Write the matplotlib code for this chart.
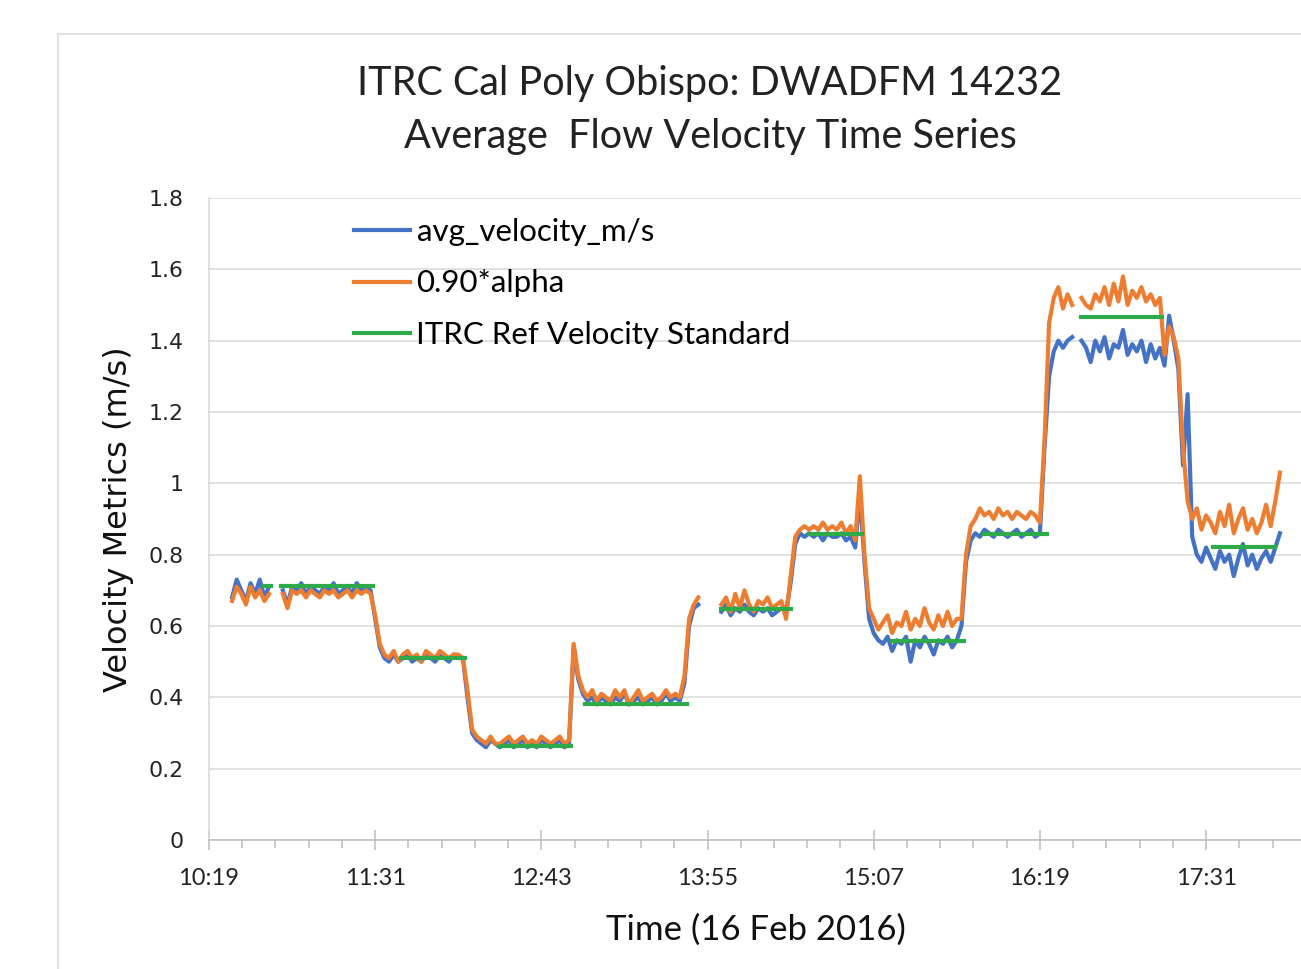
import numpy as np
import matplotlib.pyplot as plt
from matplotlib.patches import Rectangle
from matplotlib.ticker import MultipleLocator

plt.rcParams['font.family'] = ['Lato', 'DejaVu Sans']

# samples every 2 min, minutes after 10:19
sample_start = 10
sample_step = 2

avg_velocity = [
    0.68, 0.73, 0.70, 0.67, 0.72, 0.69, 0.73, 0.68, 0.71,
    None, None,
    0.70, 0.66, 0.71, 0.70, 0.72, 0.69, 0.71, 0.70, 0.69, 0.71, 0.70, 0.72, 0.69, 0.70, 0.71, 0.69, 0.72, 0.70, 0.71, 0.70,
    0.62, 0.54, 0.51, 0.50, 0.52, 0.50, 0.51, 0.52, 0.50, 0.51, 0.50, 0.52, 0.51, 0.50, 0.52, 0.51, 0.50, 0.52, 0.51, 0.51,
    0.40, 0.30, 0.28, 0.27, 0.26, 0.28, 0.27, 0.26, 0.27, 0.28, 0.26, 0.27, 0.28, 0.26, 0.27, 0.26, 0.28, 0.27, 0.26, 0.27, 0.28, 0.26, 0.27,
    0.54, 0.45, 0.41, 0.39, 0.40, 0.38, 0.40, 0.39, 0.38, 0.40, 0.39, 0.41, 0.38, 0.39, 0.40, 0.38, 0.39, 0.40, 0.38, 0.39, 0.41, 0.39, 0.40, 0.39, 0.44,
    0.60, 0.65, 0.66,
    None, None, None, None,
    0.64, 0.66, 0.63, 0.65, 0.64, 0.66, 0.64, 0.63, 0.65, 0.64, 0.65, 0.63, 0.64, 0.65, 0.64,
    0.72, 0.83, 0.86, 0.85, 0.86, 0.85, 0.86, 0.84, 0.86, 0.85, 0.85, 0.86, 0.84, 0.85,
    0.82, 0.97,
    0.78, 0.62, 0.58, 0.56, 0.55, 0.57, 0.53, 0.56, 0.55, 0.57, 0.50, 0.56, 0.54, 0.57, 0.55, 0.52, 0.56, 0.55, 0.57, 0.54, 0.56,
    0.60, 0.78, 0.84, 0.86, 0.85, 0.87, 0.86, 0.85, 0.87, 0.86, 0.85, 0.86, 0.87, 0.85, 0.86, 0.87, 0.85, 0.86,
    1.10, 1.30, 1.37, 1.40, 1.38, 1.40, 1.41,
    None,
    1.40, 1.38, 1.34, 1.40, 1.37, 1.41, 1.35, 1.39, 1.38, 1.43, 1.36, 1.39, 1.37, 1.40, 1.34, 1.39, 1.35, 1.38,
    1.33, 1.47, 1.40, 1.32, 1.05, 1.25, 0.85,
    0.80, 0.78, 0.82, 0.79, 0.76, 0.81, 0.78, 0.80, 0.74, 0.79, 0.83, 0.77, 0.80, 0.76, 0.79, 0.81, 0.78, 0.82,
    0.86,
]

alpha_090 = [
    0.67, 0.71, 0.69, 0.66, 0.71, 0.68, 0.70, 0.67, 0.69,
    None, None,
    0.69, 0.65, 0.70, 0.69, 0.70, 0.68, 0.70, 0.69, 0.68, 0.70, 0.69, 0.70, 0.68, 0.69, 0.70, 0.68, 0.70, 0.69, 0.70, 0.69,
    0.63, 0.55, 0.52, 0.51, 0.53, 0.50, 0.52, 0.53, 0.51, 0.52, 0.50, 0.53, 0.52, 0.51, 0.53, 0.52, 0.51, 0.52, 0.52, 0.51,
    0.42, 0.31, 0.29, 0.28, 0.27, 0.29, 0.27, 0.27, 0.28, 0.29, 0.27, 0.28, 0.29, 0.27, 0.28, 0.27, 0.29, 0.28, 0.27, 0.28, 0.29, 0.27, 0.28,
    0.55, 0.46, 0.42, 0.40, 0.42, 0.39, 0.41, 0.40, 0.39, 0.42, 0.40, 0.42, 0.38, 0.40, 0.42, 0.39, 0.40, 0.41, 0.39, 0.40, 0.42, 0.40, 0.41, 0.40, 0.46,
    0.62, 0.66, 0.68,
    None, None, None, None,
    0.66, 0.68, 0.64, 0.69, 0.65, 0.70, 0.66, 0.64, 0.67, 0.66, 0.68, 0.65, 0.66, 0.67, 0.62,
    0.74, 0.85, 0.87, 0.88, 0.87, 0.88, 0.87, 0.89, 0.87, 0.88, 0.87, 0.89, 0.86, 0.88,
    0.84, 1.02,
    0.80, 0.65, 0.62, 0.59, 0.61, 0.63, 0.58, 0.61, 0.60, 0.64, 0.59, 0.62, 0.60, 0.65, 0.61, 0.59, 0.63, 0.60, 0.64, 0.60, 0.62,
    0.62, 0.80, 0.88, 0.90, 0.93, 0.91, 0.92, 0.90, 0.93, 0.91, 0.92, 0.90, 0.92, 0.91, 0.90, 0.92, 0.91, 0.89,
    1.12, 1.45, 1.52, 1.55, 1.49, 1.53, 1.50,
    None,
    1.52, 1.50, 1.49, 1.53, 1.51, 1.55, 1.50, 1.56, 1.51, 1.58, 1.50, 1.54, 1.52, 1.55, 1.51, 1.53, 1.50, 1.52,
    1.36, 1.44, 1.41, 1.35, 1.10, 0.95, 0.90,
    0.93, 0.87, 0.91, 0.89, 0.86, 0.92, 0.88, 0.94, 0.86, 0.90, 0.93, 0.87, 0.90, 0.86, 0.89, 0.94, 0.88, 0.95,
    1.03,
]

# reference standard: start min, end min, level
ref_start = [24, 31, 83, 126, 163, 222, 260, 296, 336, 378, 435]
ref_end = [27, 71, 111, 157, 207, 252, 283, 327, 363, 413, 462]
ref_level = [0.712, 0.712, 0.511, 0.264, 0.381, 0.647, 0.858, 0.558, 0.858, 1.465, 0.822]

tick_minutes = [0, 72, 144, 216, 288, 360, 432]
tick_labels = ['10:19', '11:31', '12:43', '13:55', '15:07', '16:19', '17:31']
y_ticks = [0, 0.2, 0.4, 0.6, 0.8, 1.0, 1.2, 1.4, 1.6, 1.8]
y_labels = ['0', '0.2', '0.4', '0.6', '0.8', '1', '1.2', '1.4', '1.6', '1.8']

W, H = 1301, 969
fig = plt.figure(figsize=(W / 100, H / 100), dpi=100)
fig.add_artist(Rectangle((57.5 / W, -0.1), 2, (H - 33.5) / H + 0.1, transform=fig.transFigure,
                         fill=False, edgecolor='#D9D9D9', lw=1.1))
ax = fig.add_axes([209 / W, 1 - 840 / H, (1303 - 209) / W, 642 / H])

blue = np.array(avg_velocity, dtype=float)
orange = np.array(alpha_090, dtype=float)
t = sample_start + sample_step * np.arange(len(blue))

rx, ry = [], []
for s, e, v in zip(ref_start, ref_end, ref_level):
    rx += [s, e, np.nan]
    ry += [v, v, np.nan]

ax.plot(t, blue, color='#4472C4', lw=3.0, label='avg_velocity_m/s')
ax.plot(t, orange, color='#ED7D31', lw=3.0, label='0.90*alpha')
ax.plot(rx, ry, color='#2EAA4A', lw=3.0, label='ITRC Ref Velocity Standard')

ax.set_xlim(0, 474)
ax.set_ylim(0, 1.8)
ax.set_yticks(y_ticks)
ax.set_yticklabels(y_labels, fontfamily='DejaVu Sans', fontsize=15.8, color='#222222')
ax.set_xticks(tick_minutes)
ax.set_xticklabels(tick_labels, fontsize=17, color='#222222')
ax.xaxis.set_minor_locator(MultipleLocator(14.4))
ax.tick_params(axis='y', length=0, pad=18.5)
ax.tick_params(axis='x', which='major', direction='inout', length=14, width=1.1, color='#BFBFBF', pad=13)
ax.tick_params(axis='x', which='minor', direction='out', length=6, width=1.1, color='#BFBFBF')
ax.grid(axis='y', color='#D9D9D9', lw=1.1)
ax.set_axisbelow(True)
for s in ['top', 'right']:
    ax.spines[s].set_visible(False)
ax.spines['left'].set_color('#D9D9D9')
ax.spines['left'].set_linewidth(1.1)
ax.spines['bottom'].set_color('#BFBFBF')
ax.spines['bottom'].set_linewidth(1.1)

ax.set_ylabel('Velocity Metrics (m/s)', fontfamily='DejaVu Sans', fontsize=23, color='#111111', va='center')
ax.yaxis.set_label_coords((119 - 209) / 1094, 0.5)
ax.set_xlabel('Time (16 Feb 2016)', fontsize=25, color='#111111', va='baseline')
ax.xaxis.set_label_coords(0.5, (840 - 940) / 642)

fig.text(710 / W, 1 - 95 / H, 'ITRC Cal Poly Obispo: DWADFM 14232', ha='center', va='baseline',
         fontsize=28.5, color='#222222')
fig.text(710 / W, 1 - 148 / H, 'Average  Flow Velocity Time Series', ha='center', va='baseline',
         fontsize=28.5, color='#222222')

ax.legend(loc='upper left', bbox_to_anchor=(354 / W, 1 - 218 / H), bbox_transform=fig.transFigure,
          frameon=False, borderpad=0, borderaxespad=0, fontsize=22.5, handlelength=1.8,
          handletextpad=0.2, labelspacing=0.75)

fig.savefig('out.png', dpi=100, facecolor='white')
